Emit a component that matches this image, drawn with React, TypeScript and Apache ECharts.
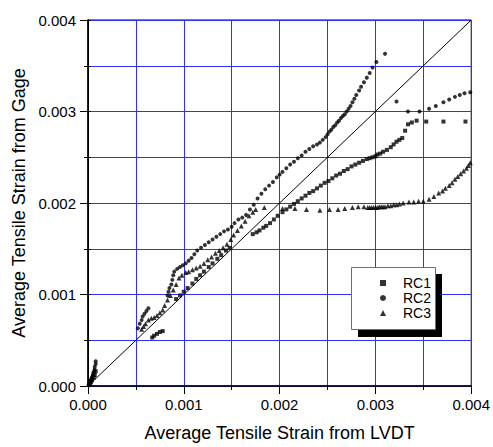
import React, { useEffect, useRef } from "react";
import * as echarts from "echarts";

// Average tensile strain: [LVDT, gage]
const rc1: [number, number][] = [
  [0.00001, 0.00001], [0.00002, 0.00003], [0.00003, 0.00004], [0.00004, 0.00006],
  [0.00006, 0.00009], [0.00007, 0.00012], [0.00008, 0.00016],
  [0.00067, 0.00053], [0.00069, 0.00055], [0.00072, 0.00057], [0.00075, 0.00059], [0.00078, 0.0006],
  [0.00092, 0.00095], [0.00096, 0.00099], [0.001, 0.00103], [0.00104, 0.00107], [0.00109, 0.00112],
  [0.00113, 0.00117], [0.00117, 0.00121], [0.00121, 0.00125], [0.00126, 0.0013], [0.0013, 0.00134],
  [0.00135, 0.00139], [0.00139, 0.00143], [0.00144, 0.00148], [0.00148, 0.00151],
  [0.00172, 0.00166], [0.00176, 0.00168], [0.00179, 0.0017], [0.00183, 0.00173], [0.00186, 0.00175],
  [0.0019, 0.00178], [0.00194, 0.00182], [0.00198, 0.00186], [0.00203, 0.0019], [0.00207, 0.00193],
  [0.00211, 0.00196], [0.00215, 0.00199], [0.00219, 0.00202], [0.00223, 0.00205], [0.00227, 0.00208],
  [0.00231, 0.00211], [0.00235, 0.00213], [0.00239, 0.00216], [0.00243, 0.00219], [0.00247, 0.00222],
  [0.00251, 0.00224], [0.00255, 0.00227], [0.00259, 0.0023], [0.00263, 0.00232], [0.00267, 0.00235],
  [0.00271, 0.00237], [0.00275, 0.0024], [0.00279, 0.00242], [0.00283, 0.00244], [0.00287, 0.00246],
  [0.00291, 0.00248], [0.00294, 0.00249], [0.00297, 0.0025], [0.003, 0.00251], [0.00302, 0.00253],
  [0.00305, 0.00254], [0.00308, 0.00256], [0.00312, 0.00258], [0.00316, 0.00261], [0.00319, 0.00264],
  [0.00322, 0.00267], [0.00325, 0.00269], [0.00328, 0.00271], [0.00331, 0.00279], [0.00334, 0.00286],
  [0.00338, 0.00288], [0.00343, 0.0029], [0.00353, 0.00289], [0.00371, 0.00289], [0.00394, 0.00289],
];

const rc2: [number, number][] = [
  [0.00001, 0.00002], [0.00002, 0.00004], [0.00003, 0.00006], [0.00004, 0.00009], [0.00005, 0.00012],
  [0.00006, 0.00015], [0.00007, 0.00018], [0.00007, 0.00021], [0.00008, 0.00024], [0.00008, 0.00027],
  [0.00052, 0.00063], [0.00054, 0.00068], [0.00056, 0.00072], [0.00057, 0.00076], [0.00059, 0.00079],
  [0.00061, 0.00082], [0.00063, 0.00085],
  [0.00083, 0.00099], [0.00084, 0.00103], [0.00085, 0.00107], [0.00087, 0.00111], [0.00088, 0.00116],
  [0.00089, 0.00121], [0.0009, 0.00125], [0.00093, 0.00128], [0.00096, 0.0013], [0.00099, 0.00132],
  [0.00102, 0.00134], [0.00105, 0.00137], [0.00108, 0.0014], [0.00111, 0.00144], [0.00114, 0.00148],
  [0.00118, 0.00151], [0.00122, 0.00154], [0.00126, 0.00157], [0.0013, 0.0016], [0.00134, 0.00163],
  [0.00138, 0.00166], [0.00142, 0.00169], [0.00146, 0.00171], [0.0015, 0.00174], [0.00153, 0.00178],
  [0.00157, 0.00182], [0.00161, 0.00184], [0.00165, 0.00187], [0.00169, 0.00193], [0.00173, 0.00198],
  [0.00177, 0.00205], [0.00181, 0.0021], [0.00185, 0.00215], [0.00189, 0.00219], [0.00193, 0.00223],
  [0.00197, 0.00228], [0.002, 0.00231], [0.00203, 0.00234], [0.00207, 0.00238], [0.00211, 0.00242],
  [0.00215, 0.00245], [0.00219, 0.00249], [0.00223, 0.00252], [0.00227, 0.00256], [0.00231, 0.00259],
  [0.00235, 0.00262], [0.00239, 0.00264], [0.00242, 0.00266], [0.00245, 0.00269], [0.00248, 0.00272],
  [0.0025, 0.00275], [0.00252, 0.00278], [0.00254, 0.0028], [0.00256, 0.00283], [0.00258, 0.00285],
  [0.0026, 0.00288], [0.00262, 0.0029], [0.00264, 0.00293], [0.00266, 0.00295], [0.00268, 0.00297],
  [0.0027, 0.003], [0.00272, 0.00303], [0.00274, 0.00306], [0.00276, 0.0031], [0.00278, 0.00314],
  [0.0028, 0.00318], [0.00283, 0.00323], [0.00285, 0.00327], [0.00288, 0.00332], [0.00291, 0.00337],
  [0.00294, 0.00342], [0.00297, 0.00348], [0.00301, 0.00354], [0.0031, 0.00363],
  [0.00322, 0.00311], [0.00334, 0.003], [0.00346, 0.003], [0.00356, 0.00303], [0.00363, 0.00306],
  [0.00371, 0.0031], [0.00377, 0.00313], [0.00383, 0.00316], [0.00388, 0.00318], [0.00393, 0.0032],
  [0.00399, 0.00321],
];

const rc3: [number, number][] = [
  [0.00001, 0.00003], [0.00002, 0.00005], [0.00003, 0.00008], [0.00004, 0.0001], [0.00005, 0.00013],
  [0.00006, 0.00017],
  [0.00056, 0.00062], [0.00058, 0.00065], [0.0006, 0.00068], [0.00063, 0.00072], [0.00066, 0.00074],
  [0.00069, 0.00075], [0.00072, 0.00077], [0.00075, 0.0008], [0.00078, 0.00083], [0.0008, 0.00088],
  [0.00083, 0.00094], [0.00086, 0.00099], [0.00089, 0.00105], [0.00092, 0.00111], [0.00095, 0.00118],
  [0.00098, 0.00121], [0.00102, 0.00124], [0.00105, 0.00125], [0.00109, 0.00127], [0.00113, 0.00129],
  [0.00117, 0.00131], [0.00121, 0.00134], [0.00125, 0.00138], [0.00129, 0.00141], [0.00133, 0.00145],
  [0.00137, 0.00148], [0.00141, 0.00151], [0.00145, 0.00155], [0.00149, 0.0016], [0.00152, 0.00165],
  [0.00156, 0.0017], [0.0016, 0.00175], [0.00164, 0.0018], [0.00168, 0.00186], [0.00172, 0.0019],
  [0.00175, 0.00193], [0.00184, 0.00195], [0.00203, 0.00194], [0.00216, 0.00194], [0.00228, 0.00193],
  [0.00242, 0.00192], [0.00252, 0.00193], [0.00261, 0.00193], [0.00268, 0.00194], [0.00276, 0.00195],
  [0.00282, 0.00196], [0.00288, 0.00196], [0.00292, 0.00195], [0.00294, 0.00195], [0.00296, 0.00195],
  [0.00298, 0.00195], [0.003, 0.00195], [0.00302, 0.00195], [0.00304, 0.00196], [0.00306, 0.00196],
  [0.00308, 0.00196], [0.0031, 0.00196], [0.00313, 0.00197], [0.00316, 0.00197], [0.00319, 0.00198],
  [0.00322, 0.00198], [0.00325, 0.00199], [0.00329, 0.002], [0.00335, 0.00201], [0.0034, 0.00201],
  [0.00345, 0.00202], [0.0035, 0.00202], [0.00356, 0.00204], [0.00361, 0.00207], [0.00366, 0.00211],
  [0.0037, 0.00213], [0.00373, 0.00216], [0.00377, 0.00219], [0.0038, 0.00222], [0.00383, 0.00226],
  [0.00386, 0.00229], [0.00389, 0.00232], [0.00392, 0.00235], [0.00395, 0.00238], [0.00397, 0.00241],
  [0.00399, 0.00244],
];

// line of equality
const equality: [number, number][] = [[0, 0], [0.004, 0.004]];

const axisMin = 0;
const axisMax = 0.004;
const axisStep = 0.001;

const FONT = "'Liberation Sans', Arial, sans-serif";
const GRID_BLUE = "#2f2fff";

export default function App() {
  const ref = useRef<HTMLDivElement>(null);

  useEffect(() => {
    if (!ref.current) return;
    const chart = echarts.init(ref.current, undefined, { renderer: "svg" });

    const baseAxis = {
      type: "value" as const,
      min: axisMin,
      max: axisMax,
      interval: axisStep,
      axisLine: { show: true, onZero: false, lineStyle: { color: "#000", width: 1.5 } },
      axisTick: { show: true, inside: false, length: 8, lineStyle: { color: "#000", width: 1 } },
      minorTick: { show: true, splitNumber: 2, length: 4, lineStyle: { color: "#000", width: 1 } },
      splitLine: { show: true, lineStyle: { color: GRID_BLUE, width: 1 } },
      minorSplitLine: { show: true, lineStyle: { color: GRID_BLUE, width: 1 } },
      axisLabel: {
        color: "#000",
        fontSize: 15,
        fontFamily: FONT,
        formatter: (v: number) => v.toFixed(3),
      },
      nameLocation: "middle" as const,
      nameTextStyle: { color: "#000", fontSize: 18, fontFamily: FONT },
    };

    const scatter = (name: string, data: [number, number][], symbol: string, size: number) => ({
      name,
      type: "scatter" as const,
      data,
      symbol,
      symbolSize: size,
      itemStyle: { color: "#000" },
      z: 3,
    });

    chart.setOption({
      animation: false,
      backgroundColor: "#fff",
      grid: {
        left: 88,
        top: 20,
        width: 384,
        height: 370,
        show: true,
        borderColor: "#000",
        borderWidth: 1,
        backgroundColor: "transparent",
      },
      xAxis: {
        ...baseAxis,
        name: "Average Tensile Strain from LVDT",
        nameGap: 38,
        axisLabel: { ...baseAxis.axisLabel, margin: 11 },
      },
      yAxis: [
        {
          ...baseAxis,
          name: "Average Tensile Strain from Gage",
          nameGap: 60,
          axisLabel: { ...baseAxis.axisLabel, margin: 12 },
        },
        {
          type: "value",
          position: "right",
          min: axisMin,
          max: axisMax,
          interval: axisStep,
          axisLine: { show: true, lineStyle: { color: "#000", width: 1 } },
          axisTick: { show: true, inside: false, length: 3, lineStyle: { color: "#000" } },
          minorTick: { show: true, splitNumber: 2, length: 3, lineStyle: { color: "#000" } },
          splitLine: { show: false },
          axisLabel: { show: false },
        },
      ],
      legend: {
        orient: "vertical",
        left: 375,
        top: 271,
        itemWidth: 6,
        itemHeight: 6,
        itemGap: 1,
        selectedMode: false,
        z: 6,
        textStyle: { color: "#000", fontSize: 14, fontFamily: FONT, padding: [0, 0, 0, 12] },
        data: [
          { name: "RC1", icon: "rect" },
          { name: "RC2", icon: "circle" },
          { name: "RC3", icon: "triangle" },
        ],
      },
      graphic: [
        {
          type: "rect",
          z: 4,
          shape: { x: 358, y: 274, width: 84, height: 63 },
          style: { fill: "#000" },
        },
        {
          type: "rect",
          z: 5,
          shape: { x: 351.5, y: 267.5, width: 84, height: 62 },
          style: { fill: "#fff", stroke: "#6e6e6e", lineWidth: 1 },
        },
      ],
      series: [
        {
          name: "equality",
          type: "line",
          data: equality,
          symbol: "none",
          silent: true,
          lineStyle: { color: "#000", width: 1 },
          z: 2,
        },
        scatter("RC1", rc1, "rect", 4),
        scatter("RC2", rc2, "circle", 4),
        scatter("RC3", rc3, "triangle", 5),
      ],
    });

    return () => chart.dispose();
  }, []);

  return (
    <div
      ref={ref}
      style={{ position: "fixed", left: 0, top: 0, width: 493, height: 447 }}
    />
  );
}
